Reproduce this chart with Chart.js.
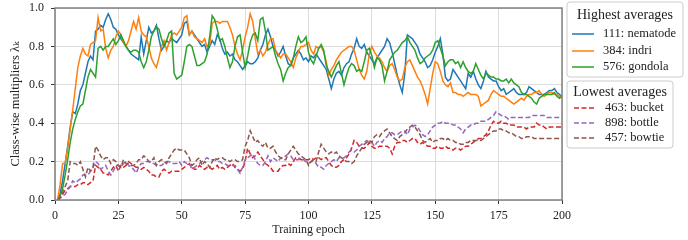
<!DOCTYPE html>
<html>
<head>
<meta charset="utf-8">
<script src="https://cdn.jsdelivr.net/npm/chart.js@4.4.1/dist/chart.umd.min.js"></script>
<style>
  html, body { margin: 0; padding: 0; background: #fff; }
  #wrap { position: relative; width: 688px; height: 240px; }
</style>
</head>
<body>
<div id="wrap"><canvas id="chart" width="688" height="240"></canvas></div>
<script>
// epochs 1..200
const epochs = Array.from({ length: 200 }, (_, i) => i + 1);
const xTicks = [0, 25, 50, 75, 100, 125, 150, 175, 200];
const yTicks = [0.0, 0.2, 0.4, 0.6, 0.8, 1.0];

const nematode = [
  0.00, 0.03, 0.10, 0.19, 0.28, 0.38, 0.46, 0.45, 0.50, 0.57,
  0.60, 0.66, 0.72, 0.75, 0.73, 0.88, 0.89, 0.91, 0.90, 0.94,
  0.97, 0.94, 0.90, 0.89, 0.86, 0.84, 0.82, 0.80, 0.78, 0.76,
  0.75, 0.74, 0.73, 0.85, 0.76, 0.83, 0.90, 0.87, 0.88, 0.91,
  0.84, 0.78, 0.80, 0.83, 0.82, 0.84, 0.83, 0.82, 0.84, 0.86,
  0.92, 0.93, 0.86, 0.88, 0.86, 0.84, 0.82, 0.80, 0.81, 0.77,
  0.80, 0.83, 0.81, 0.86, 0.84, 0.79, 0.76, 0.77, 0.75, 0.76,
  0.73, 0.72, 0.70, 0.68, 0.70, 0.72, 0.71, 0.71, 0.72, 0.74,
  0.78, 0.81, 0.86, 0.89, 0.85, 0.80, 0.78, 0.75, 0.77, 0.80,
  0.75, 0.71, 0.70, 0.74, 0.76, 0.78, 0.76, 0.73, 0.74, 0.72,
  0.75, 0.74, 0.76, 0.74, 0.72, 0.70, 0.68, 0.63, 0.58, 0.63,
  0.66, 0.67, 0.65, 0.69, 0.71, 0.72, 0.76, 0.79, 0.84, 0.80,
  0.79, 0.81, 0.77, 0.75, 0.73, 0.71, 0.74, 0.76, 0.78, 0.80,
  0.84, 0.82, 0.77, 0.71, 0.65, 0.60, 0.56, 0.66, 0.86, 0.85,
  0.84, 0.82, 0.80, 0.76, 0.74, 0.72, 0.69, 0.70, 0.73, 0.77,
  0.80, 0.84, 0.76, 0.64, 0.62, 0.63, 0.68, 0.66, 0.64, 0.62,
  0.60, 0.58, 0.66, 0.64, 0.67, 0.63, 0.60, 0.58, 0.62, 0.67,
  0.64, 0.63, 0.62, 0.62, 0.59, 0.57, 0.58, 0.55, 0.56, 0.57,
  0.58, 0.56, 0.55, 0.55, 0.55, 0.56, 0.59, 0.58, 0.57, 0.56,
  0.55, 0.55, 0.55, 0.56, 0.57, 0.57, 0.58, 0.56, 0.55, 0.54
];
const indri = [
  0.00, 0.08, 0.19, 0.19, 0.27, 0.37, 0.47, 0.58, 0.69, 0.75,
  0.79, 0.76, 0.75, 0.81, 0.82, 0.83, 0.95, 0.88, 0.89, 0.79,
  0.74, 0.78, 0.80, 0.85, 0.88, 0.86, 0.82, 0.80, 0.83, 0.88,
  0.93, 0.89, 0.95, 0.88, 0.86, 0.85, 0.80, 0.74, 0.71, 0.69,
  0.74, 0.80, 0.83, 0.78, 0.82, 0.86, 0.87, 0.86, 0.88, 0.90,
  0.95, 0.96, 0.86, 0.88, 0.85, 0.84, 0.83, 0.82, 0.84, 0.80,
  0.81, 0.92, 0.93, 0.93, 0.92, 0.93, 0.93, 0.93, 0.90, 0.86,
  0.80, 0.76, 0.73, 0.78, 0.85, 0.90, 0.97, 0.93, 0.84, 0.76,
  0.78, 0.75, 0.77, 0.81, 0.84, 0.84, 0.78, 0.76, 0.74, 0.76,
  0.76, 0.74, 0.72, 0.69, 0.74, 0.77, 0.80, 0.80, 0.81, 0.82,
  0.78, 0.76, 0.80, 0.79, 0.80, 0.77, 0.72, 0.65, 0.68, 0.70,
  0.73, 0.75, 0.77, 0.78, 0.79, 0.80, 0.80, 0.78, 0.73, 0.68,
  0.65, 0.63, 0.67, 0.76, 0.80, 0.77, 0.75, 0.74, 0.72, 0.69,
  0.67, 0.70, 0.71, 0.68, 0.64, 0.62, 0.63, 0.69, 0.72, 0.73,
  0.70, 0.67, 0.64, 0.62, 0.59, 0.55, 0.50, 0.58, 0.66, 0.72,
  0.71, 0.67, 0.62, 0.60, 0.59, 0.61, 0.56, 0.56, 0.55, 0.55,
  0.54, 0.55, 0.56, 0.55, 0.55, 0.55, 0.54, 0.49, 0.50, 0.51,
  0.52, 0.55, 0.57, 0.56, 0.55, 0.54, 0.54, 0.53, 0.52, 0.51,
  0.50, 0.51, 0.52, 0.53, 0.52, 0.54, 0.55, 0.55, 0.56, 0.56,
  0.57, 0.55, 0.54, 0.55, 0.56, 0.56, 0.55, 0.55, 0.54, 0.54
];
const gondola = [
  0.00, 0.02, 0.06, 0.13, 0.21, 0.30, 0.37, 0.42, 0.46, 0.49,
  0.50, 0.57, 0.64, 0.68, 0.66, 0.64, 0.79, 0.80, 0.78, 0.80,
  0.80, 0.82, 0.84, 0.81, 0.83, 0.86, 0.83, 0.80, 0.78, 0.77,
  0.78, 0.78, 0.77, 0.72, 0.69, 0.72, 0.78, 0.85, 0.88, 0.90,
  0.89, 0.84, 0.80, 0.83, 0.87, 0.88, 0.66, 0.63, 0.64, 0.65,
  0.72, 0.80, 0.81, 0.80, 0.75, 0.70, 0.70, 0.71, 0.72, 0.76,
  0.85, 0.96, 0.94, 0.89, 0.83, 0.84, 0.80, 0.74, 0.69, 0.72,
  0.80, 0.85, 0.86, 0.77, 0.69, 0.75, 0.82, 0.86, 0.87, 0.83,
  0.94, 0.95, 0.88, 0.78, 0.79, 0.80, 0.75, 0.71, 0.68, 0.62,
  0.66, 0.69, 0.70, 0.74, 0.80, 0.85, 0.82, 0.83, 0.85, 0.77,
  0.73, 0.71, 0.75, 0.79, 0.81, 0.78, 0.70, 0.67, 0.64, 0.67,
  0.70, 0.72, 0.66, 0.60, 0.65, 0.69, 0.71, 0.70, 0.67, 0.68,
  0.67, 0.72, 0.78, 0.79, 0.75, 0.69, 0.74, 0.73, 0.70, 0.62,
  0.67, 0.73, 0.75, 0.77, 0.78, 0.80, 0.82, 0.83, 0.85, 0.82,
  0.80, 0.78, 0.74, 0.71, 0.72, 0.74, 0.75, 0.76, 0.78, 0.82,
  0.83, 0.79, 0.75, 0.70, 0.72, 0.73, 0.73, 0.71, 0.72, 0.69,
  0.72, 0.69, 0.67, 0.66, 0.67, 0.71, 0.68, 0.65, 0.63, 0.66,
  0.65, 0.64, 0.64, 0.63, 0.63, 0.62, 0.62, 0.63, 0.61, 0.63,
  0.61, 0.60, 0.59, 0.56, 0.55, 0.55, 0.54, 0.53, 0.51, 0.50,
  0.53, 0.54, 0.55, 0.55, 0.55, 0.55, 0.56, 0.54, 0.53, 0.54
];
const bucket = [
  0.00, 0.01, 0.03, 0.05, 0.06, 0.07, 0.07, 0.07, 0.08, 0.08,
  0.09, 0.09, 0.08, 0.09, 0.10, 0.18, 0.17, 0.16, 0.14, 0.14,
  0.13, 0.15, 0.17, 0.18, 0.15, 0.18, 0.17, 0.18, 0.20, 0.19,
  0.18, 0.17, 0.17, 0.16, 0.17, 0.16, 0.15, 0.13, 0.13, 0.12,
  0.12, 0.15, 0.16, 0.15, 0.14, 0.15, 0.15, 0.15, 0.15, 0.16,
  0.17, 0.18, 0.19, 0.17, 0.16, 0.16, 0.18, 0.17, 0.16, 0.17,
  0.17, 0.16, 0.17, 0.18, 0.16, 0.17, 0.16, 0.17, 0.18, 0.19,
  0.17, 0.16, 0.15, 0.16, 0.20, 0.27, 0.24, 0.22, 0.23, 0.25,
  0.23, 0.21, 0.19, 0.18, 0.17, 0.15, 0.15, 0.15, 0.17, 0.18,
  0.18, 0.19, 0.18, 0.20, 0.22, 0.22, 0.21, 0.21, 0.21, 0.21,
  0.22, 0.21, 0.22, 0.22, 0.21, 0.22, 0.22, 0.20, 0.18, 0.17,
  0.17, 0.18, 0.20, 0.21, 0.22, 0.24, 0.27, 0.31, 0.30, 0.28,
  0.27, 0.27, 0.28, 0.30, 0.28, 0.27, 0.27, 0.28, 0.28, 0.28,
  0.28, 0.27, 0.24, 0.28, 0.30, 0.30, 0.31, 0.31, 0.30, 0.31,
  0.32, 0.32, 0.30, 0.29, 0.30, 0.29, 0.28, 0.28, 0.27, 0.27,
  0.28, 0.27, 0.27, 0.28, 0.27, 0.27, 0.26, 0.27, 0.27, 0.26,
  0.27, 0.28, 0.28, 0.29, 0.30, 0.31, 0.32, 0.32, 0.33, 0.34,
  0.36, 0.39, 0.41, 0.40, 0.40, 0.41, 0.40, 0.40, 0.39, 0.39,
  0.39, 0.38, 0.38, 0.38, 0.38, 0.37, 0.38, 0.38, 0.38, 0.40,
  0.39, 0.39, 0.38, 0.37, 0.38, 0.38, 0.38, 0.38, 0.38, 0.38
];
const bottle = [
  0.00, 0.01, 0.02, 0.03, 0.05, 0.07, 0.10, 0.09, 0.10, 0.11,
  0.13, 0.13, 0.13, 0.15, 0.17, 0.20, 0.19, 0.16, 0.17, 0.18,
  0.15, 0.13, 0.15, 0.18, 0.18, 0.17, 0.19, 0.20, 0.18, 0.17,
  0.16, 0.14, 0.17, 0.19, 0.19, 0.20, 0.20, 0.19, 0.19, 0.18,
  0.18, 0.18, 0.19, 0.20, 0.20, 0.19, 0.19, 0.19, 0.20, 0.18,
  0.20, 0.19, 0.19, 0.16, 0.17, 0.18, 0.19, 0.20, 0.21, 0.22,
  0.21, 0.21, 0.21, 0.20, 0.20, 0.19, 0.19, 0.18, 0.18, 0.18,
  0.18, 0.16, 0.14, 0.17, 0.21, 0.22, 0.23, 0.24, 0.21, 0.19,
  0.18, 0.18, 0.20, 0.23, 0.20, 0.22, 0.21, 0.20, 0.22, 0.22,
  0.23, 0.24, 0.23, 0.21, 0.21, 0.21, 0.22, 0.21, 0.20, 0.19,
  0.20, 0.20, 0.19, 0.17, 0.17, 0.16, 0.18, 0.19, 0.20, 0.21,
  0.20, 0.22, 0.22, 0.22, 0.23, 0.25, 0.26, 0.25, 0.26, 0.28,
  0.29, 0.30, 0.31, 0.30, 0.30, 0.28, 0.30, 0.31, 0.30, 0.32,
  0.33, 0.35, 0.35, 0.34, 0.34, 0.35, 0.36, 0.36, 0.34, 0.37,
  0.38, 0.39, 0.38, 0.36, 0.34, 0.33, 0.34, 0.36, 0.38, 0.39,
  0.40, 0.40, 0.41, 0.40, 0.40, 0.40, 0.39, 0.39, 0.38, 0.37,
  0.35, 0.37, 0.38, 0.39, 0.39, 0.40, 0.40, 0.41, 0.41, 0.41,
  0.42, 0.43, 0.44, 0.46, 0.45, 0.44, 0.44, 0.43, 0.42, 0.43,
  0.43, 0.43, 0.43, 0.43, 0.43, 0.43, 0.43, 0.44, 0.44, 0.44,
  0.44, 0.44, 0.44, 0.43, 0.43, 0.43, 0.43, 0.43, 0.43, 0.43
];
const bowtie = [
  0.00, 0.01, 0.04, 0.07, 0.10, 0.20, 0.19, 0.19, 0.18, 0.20,
  0.16, 0.12, 0.17, 0.15, 0.17, 0.28, 0.26, 0.23, 0.21, 0.22,
  0.22, 0.19, 0.21, 0.20, 0.18, 0.17, 0.21, 0.19, 0.19, 0.18,
  0.18, 0.19, 0.21, 0.21, 0.23, 0.22, 0.20, 0.20, 0.22, 0.18,
  0.20, 0.21, 0.20, 0.19, 0.22, 0.24, 0.26, 0.27, 0.26, 0.26,
  0.26, 0.24, 0.22, 0.18, 0.19, 0.21, 0.22, 0.18, 0.20, 0.19,
  0.17, 0.20, 0.22, 0.21, 0.22, 0.22, 0.21, 0.21, 0.20, 0.21,
  0.21, 0.20, 0.20, 0.21, 0.28, 0.31, 0.36, 0.33, 0.30, 0.31,
  0.29, 0.28, 0.30, 0.27, 0.27, 0.28, 0.25, 0.23, 0.22, 0.21,
  0.21, 0.24, 0.26, 0.28, 0.26, 0.24, 0.23, 0.22, 0.21, 0.18,
  0.20, 0.21, 0.20, 0.25, 0.29, 0.27, 0.25, 0.24, 0.25, 0.24,
  0.25, 0.23, 0.22, 0.21, 0.20, 0.20, 0.19, 0.20, 0.23, 0.25,
  0.27, 0.29, 0.30, 0.31, 0.30, 0.33, 0.34, 0.33, 0.35, 0.36,
  0.37, 0.35, 0.33, 0.32, 0.31, 0.33, 0.34, 0.35, 0.37, 0.38,
  0.39, 0.38, 0.36, 0.34, 0.31, 0.30, 0.31, 0.32, 0.30, 0.31,
  0.31, 0.32, 0.32, 0.31, 0.32, 0.31, 0.31, 0.30, 0.30, 0.29,
  0.29, 0.30, 0.30, 0.31, 0.31, 0.31, 0.31, 0.31, 0.32, 0.33,
  0.34, 0.35, 0.36, 0.36, 0.37, 0.37, 0.36, 0.36, 0.35, 0.35,
  0.34, 0.33, 0.33, 0.32, 0.32, 0.33, 0.33, 0.33, 0.32, 0.32,
  0.32, 0.32, 0.32, 0.32, 0.32, 0.32, 0.32, 0.32, 0.32, 0.32
];

const highNames = ["111: nematode", "384: indri", "576: gondola"];
const lowNames = ["463: bucket", "898: bottle", "457: bowtie"];
const highColors = ["#1f77b4", "#ff7f0e", "#2ca02c"];
const lowColors = ["#d62728", "#9467bd", "#8c564b"];

const SERIF = "'Liberation Serif', 'DejaVu Serif', serif";
Chart.defaults.font.family = SERIF;
Chart.defaults.font.size = 12;
Chart.defaults.color = "#222";

function toPoints(vals) {
  return vals.map((v, i) => ({ x: epochs[i], y: v }));
}

const allSeries = [nematode, indri, gondola, bucket, bottle, bowtie];
const allNames = highNames.concat(lowNames);
const allColors = highColors.concat(lowColors);

const datasets = allSeries.map((vals, i) => ({
  label: allNames[i],
  data: toPoints(vals),
  borderColor: allColors[i],
  borderWidth: 1.5,
  borderDash: i >= 3 ? [5, 2.5] : [],
  pointRadius: 0,
  tension: 0,
  fill: false,
  order: 5 - i // later series on top, like matplotlib
}));

// frame around the plot area
const framePlugin = {
  id: "frame",
  afterDatasetsDraw(chart) {
    const { ctx, chartArea: a } = chart;
    ctx.save();
    ctx.strokeStyle = "#808080";
    ctx.lineWidth = 1.5;
    ctx.strokeRect(a.left, a.top, a.right - a.left, a.bottom - a.top);
    ctx.restore();
  }
};

// two legend boxes on the right
function drawLegendBox(ctx, box) {
  ctx.save();
  ctx.beginPath();
  ctx.roundRect(box.x, box.y, box.w, box.h, 3);
  ctx.fillStyle = "rgba(255,255,255,0.85)";
  ctx.fill();
  ctx.strokeStyle = "#cccccc";
  ctx.lineWidth = 1;
  ctx.stroke();

  ctx.fillStyle = "#222";
  ctx.textBaseline = "middle";
  ctx.textAlign = "center";
  ctx.font = "14px " + SERIF;
  ctx.fillText(box.title, box.x + box.w / 2, box.titleY);

  ctx.textAlign = "left";
  ctx.font = "12.5px " + SERIF;
  box.names.forEach((name, i) => {
    const y = box.rowY[i];
    ctx.beginPath();
    ctx.setLineDash(box.dash);
    ctx.strokeStyle = box.colors[i];
    ctx.lineWidth = 1.5;
    ctx.moveTo(box.lineX0, y);
    ctx.lineTo(box.lineX1, y);
    ctx.stroke();
    ctx.setLineDash([]);
    ctx.fillText(name, box.textX, y);
  });
  ctx.restore();
}

const legendPlugin = {
  id: "twoLegends",
  afterDraw(chart) {
    const ctx = chart.ctx;
    drawLegendBox(ctx, {
      x: 567, y: 2, w: 116, h: 75,
      title: "Highest averages", titleY: 15,
      names: highNames, colors: highColors, dash: [],
      rowY: [34, 51, 67], lineX0: 572, lineX1: 594, textX: 603
    });
    drawLegendBox(ctx, {
      x: 567, y: 81, w: 106, h: 67,
      title: "Lowest averages", titleY: 92,
      names: lowNames, colors: lowColors, dash: [5, 2.5],
      rowY: [108, 123, 138], lineX0: 574, lineX1: 594, textX: 605
    });
  }
};

new Chart(document.getElementById("chart"), {
  type: "line",
  data: { datasets },
  options: {
    responsive: false,
    animation: false,
    layout: { padding: { top: 8, right: 126, left: 0, bottom: 0 } },
    plugins: { legend: { display: false }, tooltip: { enabled: false } },
    scales: {
      x: {
        type: "linear",
        min: 0,
        max: 200,
        afterBuildTicks: (s) => { s.ticks = xTicks.map(v => ({ value: v })); },
        afterFit: (s) => { s.height = 40; s.paddingLeft = 0; s.paddingRight = 0; },
        ticks: { padding: 5, maxRotation: 0, color: "#222" },
        grid: {
          color: "#d4d4d4", lineWidth: 0.8, borderDash: [3, 3],
          tickLength: 4, tickColor: "#333", tickWidth: 1
        },
        border: { display: false },
        title: { display: true, text: "Training epoch", padding: { top: 0, bottom: 3 }, color: "#222" }
      },
      y: {
        min: 0,
        max: 1,
        afterBuildTicks: (s) => { s.ticks = yTicks.map(v => ({ value: v })); },
        afterFit: (s) => { s.width = 55; s.paddingTop = 0; s.paddingBottom = 0; },
        ticks: { padding: 7, callback: (v) => Number(v).toFixed(1), color: "#222" },
        grid: {
          color: "#d4d4d4", lineWidth: 0.8, borderDash: [3, 3],
          tickLength: 4, tickColor: "#333", tickWidth: 1
        },
        border: { display: false },
        title: { display: true, text: "Class-wise multipliers λₖ", font: { size: 12.5 }, padding: { top: 8, bottom: 0 }, color: "#222" }
      }
    }
  },
  plugins: [framePlugin, legendPlugin]
});
</script>
</body>
</html>
